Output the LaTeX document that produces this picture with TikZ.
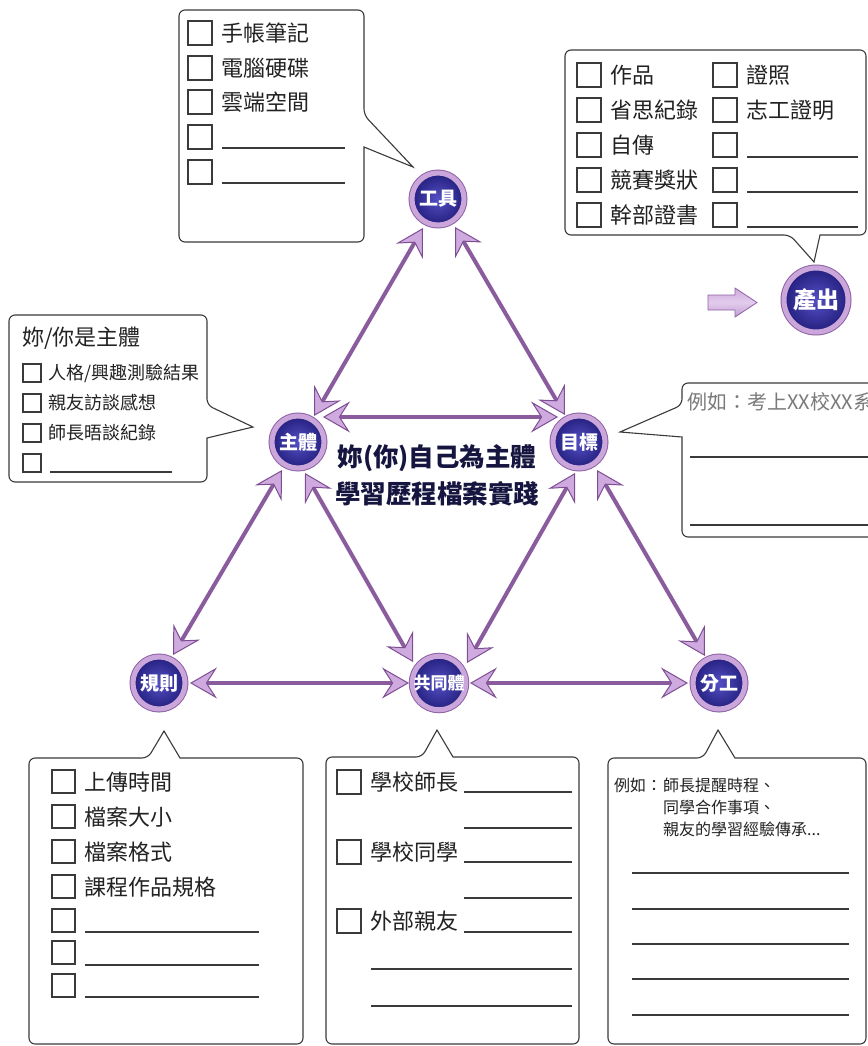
\documentclass[tikz,border=0pt]{standalone}
\usepackage{fontspec}
\newfontfamily\cjk{Noto Sans CJK TC}
\usetikzlibrary{arrows.meta}
\definecolor{linep}{HTML}{8A5C9E}
\definecolor{tipfill}{HTML}{CFAADF}
\definecolor{tipdraw}{HTML}{7E4E94}
\definecolor{ringp}{HTML}{CBA6DA}
\definecolor{ringd}{HTML}{8E62A6}
\definecolor{diskin}{HTML}{5450C4}
\definecolor{diskout}{HTML}{241F7E}
\definecolor{boxline}{HTML}{3A3A3A}
\definecolor{txt}{HTML}{222222}
\definecolor{navy}{HTML}{15153F}
\definecolor{graytxt}{HTML}{7A7A7A}
\newcommand\fsz[1]{\fontsize{#1}{#1}\selectfont}
\newcommand\ckb[3]{\draw[cbox] (#1,#2) rectangle ++(#3,#3);}
\tikzset{
  hub/.style={circle, inner sep=0pt, minimum size=52pt, draw=ringp, line width=5pt,
    preaction={draw=ringd, line width=7pt}, inner color=diskin, outer color=diskout,
    text=white, font=\cjk\bfseries\fsz{19}},
  biarrow/.style={draw=linep, line width=4pt,
    {Stealth[length=27pt,width=31pt,inset=10pt,line width=1pt,color=tipdraw,fill=tipfill]}-{Stealth[length=27pt,width=31pt,inset=10pt,line width=1pt,color=tipdraw,fill=tipfill]}},
  callout/.style={draw=boxline, line width=1.1pt, fill=white},
  cbox/.style={draw=boxline, line width=1.1pt},
  blank/.style={draw=boxline, line width=1.1pt},
  item/.style={anchor=west, inner sep=0pt, text=txt, font=\cjk\fsz{22}},
  sitem/.style={anchor=west, inner sep=0pt, text=txt, font=\cjk\fsz{18}},
  xitem/.style={anchor=west, inner sep=0pt, text=txt, font=\cjk\fsz{16}},
}
\begin{document}
\begin{tikzpicture}[x=1pt,y=-1pt]
\useasboundingbox (0,0) rectangle (867,1046);

% ---------- callouts ----------
% tools
\draw[callout] (364,147) [rounded corners=6pt] -- (364,242) -- (179,242) -- (179,10) -- (364,10) -- (364,115) [sharp corners] -- (413,167) -- cycle;
\foreach \y in {33,68,102,137,172} {\ckb{188}{\y-12}{24}}
\node[item] (g1) at (221,33) {手帳筆記};
\node[item] (g2) at (221,68) {電腦硬碟};
\node[item] (g3) at (221,102) {雲端空間};
\draw[blank] (222,148) -- (345,148);
\draw[blank] (222,183) -- (345,183);

% output
\draw[callout] (820,235) [rounded corners=6pt] -- (866,235) -- (866,50) -- (565,50) -- (565,235) -- (790,235) [sharp corners] -- (814,262) -- cycle;
\foreach \y in {75,110,145,180,215} {\ckb{577}{\y-12}{24} \ckb{713}{\y-12}{24}}
\node[item] (o1) at (610,75) {作品};
\node[item] (o2) at (610,110) {省思紀錄};
\node[item] (o3) at (610,145) {自傳};
\node[item] (o4) at (610,180) {競賽獎狀};
\node[item] (o5) at (610,215) {幹部證書};
\node[item] (o6) at (746,75) {證照};
\node[item] (o7) at (746,110) {志工證明};
\draw[blank] (747,157) -- (858,157);
\draw[blank] (747,192) -- (858,192);
\draw[blank] (747,227) -- (858,227);

% subject
\draw[callout] (207,438) [rounded corners=6pt] -- (207,482) -- (9,482) -- (9,315) -- (207,315) -- (207,405) [sharp corners] -- (253,427) -- cycle;
\node[item] (s0) at (22,338) {妳/你是主體};
\foreach \y in {373,403,433,463} {\ckb{23}{\y-9}{18}}
\node[sitem] (s1) at (48,373) {人格/興趣測驗結果};
\node[sitem] (s2) at (48,403) {親友訪談感想};
\node[sitem] (s3) at (48,433) {師長晤談紀錄};
\draw[blank] (50,472) -- (172,472);

% goal (box runs off the right edge, as in the reference)
\draw[callout] (682,437) [rounded corners=6pt] -- (682,537) -- (885,537) -- (885,383) -- (682,383) -- (682,405) [sharp corners] -- (620,432) -- cycle;
\node[sitem, text=graytxt, font=\cjk\fsz{20}] (m1) at (687,402) {例如：考上XX校XX系};
\draw[blank] (690,457) -- (880,457);
\draw[blank] (690,525) -- (880,525);

% rules
\draw[callout] (180,758) [rounded corners=6pt] -- (303,758) -- (303,1044) -- (29,1044) -- (29,758) -- (148,758) [sharp corners] -- (164,731) -- cycle;
\foreach \y in {782,817,852,887,921,953,986} {\ckb{52}{\y-12}{23}}
\node[item] (r1) at (84,782) {上傳時間};
\node[item] (r2) at (84,817) {檔案大小};
\node[item] (r3) at (84,852) {檔案格式};
\node[item] (r4) at (84,887) {課程作品規格};
\draw[blank] (85,932) -- (259,932);
\draw[blank] (85,965) -- (259,965);
\draw[blank] (85,997) -- (259,997);

% community
\draw[callout] (453,757) [rounded corners=6pt] -- (579,757) -- (579,1044) -- (326,1044) -- (326,757) -- (422,757) [sharp corners] -- (437,730) -- cycle;
\foreach \y in {782,852,921} {\ckb{337}{\y-12}{24}}
\node[item] (c1) at (370,782) {學校師長};
\node[item] (c2) at (370,852) {學校同學};
\node[item] (c3) at (370,921) {外部親友};
\foreach \y in {792,828,862,898,932} {\draw[blank] (464,\y) -- (572,\y);}
\draw[blank] (371,969) -- (572,969);
\draw[blank] (371,1006) -- (572,1006);

% division of labour
\draw[callout] (735,758) [rounded corners=6pt] -- (866,758) -- (866,1044) -- (608,1044) -- (608,758) -- (703,758) [sharp corners] -- (718,730) -- cycle;
\node[xitem] (d0) at (614,785) {例如：};
\node[xitem] (d1) at (663,785) {師長提醒時程、};
\node[xitem] (d2) at (663,807) {同學合作事項、};
\node[xitem] (d3) at (663,829) {親友的學習經驗傳承...};
\foreach \y in {873,909,944,979,1015} {\draw[blank] (632,\y) -- (849,\y);}

% ---------- hubs ----------
\node[hub] (tool) at (438,199) {工具};
\node[hub] (subj) at (298,442) {主體};
\node[hub] (goal) at (579,442) {目標};
\node[hub] (rule) at (159,683) {規則};
\node[hub, font=\cjk\bfseries\fsz{17}] (comm) at (439,683) {共同體};
\node[hub] (div)  at (719,683) {分工};
\node[hub, minimum size=64pt, font=\cjk\bfseries\fsz{23}] (out) at (816,300) {產出};

% block arrow
\draw[draw=ringd, line width=0.8pt, top color=tipfill, bottom color=tipfill!80!ringd, middle color=white!40!tipfill]
  (708,295) -- (735,295) -- (735,288) -- (757,302.5) -- (735,317) -- (735,310) -- (708,310) -- cycle;

% ---------- connectors ----------
\draw[biarrow] ([shift={(-15,29)}]tool.center) -- ([shift={(16,-26)}]subj.center);
\draw[biarrow] ([shift={(17,28)}]tool.center) -- ([shift={(-14,-27)}]goal.center);
\draw[biarrow] ([shift={(25,-25)}]subj.center) -- ([shift={(-21,-25)}]goal.center);
\draw[biarrow] ([shift={(-16,28)}]subj.center) -- ([shift={(14,-28)}]rule.center);
\draw[biarrow] ([shift={(7,31)}]subj.center) -- ([shift={(-26,-21)}]comm.center);
\draw[biarrow] ([shift={(-4,31)}]goal.center) -- ([shift={(28,-20)}]comm.center);
\draw[biarrow] ([shift={(18,28)}]goal.center) -- ([shift={(-14,-27)}]div.center);
\draw[biarrow] ([shift={(31,0)}]rule.center) -- ([shift={(-30,0)}]comm.center);
\draw[biarrow] ([shift={(31,0)}]comm.center) -- ([shift={(-31,0)}]div.center);

% ---------- title ----------
\node[font=\cjk\bfseries\fsz{25.5}, text=navy, align=center, inner sep=0pt] (title) at (437,475)
  {妳(你)自己為主體\\[9pt]學習歷程檔案實踐};
\end{tikzpicture}
\end{document}
